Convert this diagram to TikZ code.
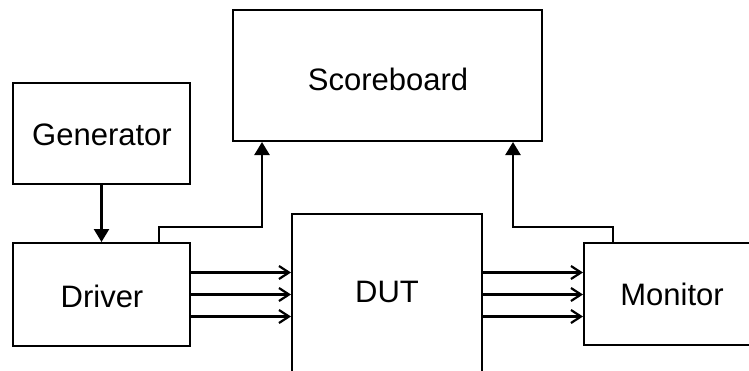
\documentclass[tikz,border=0pt]{standalone}
\usepackage{fontspec}
\setmainfont{Liberation Sans}
\usetikzlibrary{arrows.meta,calc}
\begin{document}
\begin{tikzpicture}[x=1pt,y=-1pt,
  blk/.style={draw,line width=2pt,inner sep=0pt,rectangle},
  lbl/.style={font=\fontsize{31}{34}\selectfont,inner sep=0pt},
  conn/.style={line width=2.4pt},
  filled/.style={conn,-{Triangle[width=15pt,length=13pt]}},
  open/.style={conn,-{Straight Barb[width=13pt,length=10pt,line width=2.2pt]}}]
\useasboundingbox (0,0) rectangle (749,370);
\clip (0,0) rectangle (749,370);
% boxes
\node[blk,minimum width=177pt,minimum height=101pt] (gen) at (101.5,133.5) {};
\node[lbl] at (102,135) {Generator};
\node[blk,minimum width=309pt,minimum height=131pt] (sb) at (387.5,75.5) {};
\node[lbl] at (388,79) {Scoreboard};
\node[blk,minimum width=177pt,minimum height=103pt] (drv) at (101.5,294.5) {};
\node[lbl] at (102,296) {Driver};
\node[blk,minimum width=190pt,minimum height=200pt] (dut) at (387,314) {};
\node[lbl] at (387,292) {DUT};
\node[blk,minimum width=200pt,minimum height=102pt] (mon) at (684,294) {};
\node[lbl] at (672,294) {Monitor};
% generator -> driver
\draw[filled] (gen.south) -- (drv.north);
% driver -> scoreboard
\coordinate (d1) at ($(drv.north west)+(147,0)$);
\coordinate (s1) at ($(sb.south west)+(30,0)$);
\draw[filled] (d1) -- ++(0,-15) -| (s1);
% monitor -> scoreboard
\coordinate (m1) at ($(mon.north west)+(30,0)$);
\coordinate (s2) at ($(sb.south east)+(-30,0)$);
\draw[filled] (m1) -- ++(0,-15) -| (s2);
% bus arrows
\foreach \yy in {-22,0,22} {
  \draw[open] ($(drv.east)+(0,\yy)$) -- ($(drv.east -| dut.west)+(0,\yy)$);
  \draw[open] ($(drv.east -| dut.east)+(0,\yy)$) -- ($(drv.east -| mon.west)+(0,\yy)$);
}
\end{tikzpicture}
\end{document}
